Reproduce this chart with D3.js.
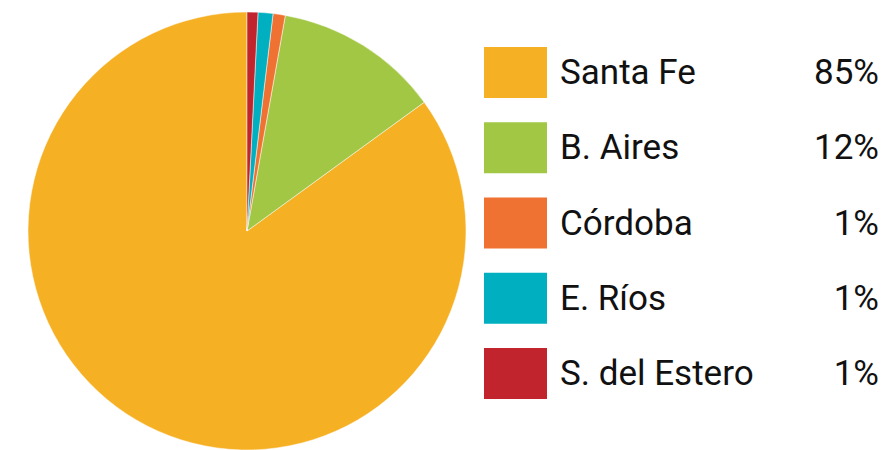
<!DOCTYPE html>
<html>
<head>
<meta charset="utf-8">
<script src="https://cdn.jsdelivr.net/npm/d3@7"></script>
<style>
  body { margin: 0; background: #fff; }
  #chart { width: 888px; height: 450px; }
  text { font-family: Roboto, sans-serif; }
</style>
</head>
<body>
<div id="chart"></div>
<script>
// data
var provinces = ["Santa Fe", "B. Aires", "Córdoba", "E. Ríos", "S. del Estero"]
var shares = [85, 12.2, 0.9, 1.1, 0.8]
var labels = ["85%", "12%", "1%", "1%", "1%"]
var colors = ["#f6b024", "#a2c744", "#f07232", "#00b0c0", "#c2242e"]

var width = 888, height = 450
var svg = d3.select("#chart").append("svg").attr("width", width).attr("height", height)

var cx = 247, cy = 231, r = 219

// drawn counter-clockwise from 12 o'clock in legend order
var pie = d3.pie().sort(null).startAngle(0).endAngle(-2 * Math.PI)
var arc = d3.arc().innerRadius(0).outerRadius(r)

var slices = pie(shares)

svg.append("g").attr("transform", "translate(" + cx + "," + cy + ")")
  .selectAll("path").data(slices).join("path")
  .attr("d", arc)
  .attr("fill", (d, i) => colors[i])
  .attr("stroke", "#fff").attr("stroke-width", 0.5)

// legend
var y = d3.scalePoint().domain(provinces).range([72.5, 373.5])

var leg = svg.append("g").selectAll("g").data(provinces).join("g")
  .attr("transform", d => "translate(0," + y(d) + ")")

leg.append("rect").attr("x", 484).attr("y", -25.5).attr("width", 63).attr("height", 51)
  .attr("fill", (d, i) => colors[i])

leg.append("text").attr("x", 560).attr("y", 11.5).attr("font-size", 35).attr("fill", "#111")
  .text(d => d)

leg.append("text").attr("x", 879).attr("y", 11.5).attr("font-size", 35).attr("fill", "#111")
  .attr("text-anchor", "end")
  .text((d, i) => labels[i])
</script>
</body>
</html>
